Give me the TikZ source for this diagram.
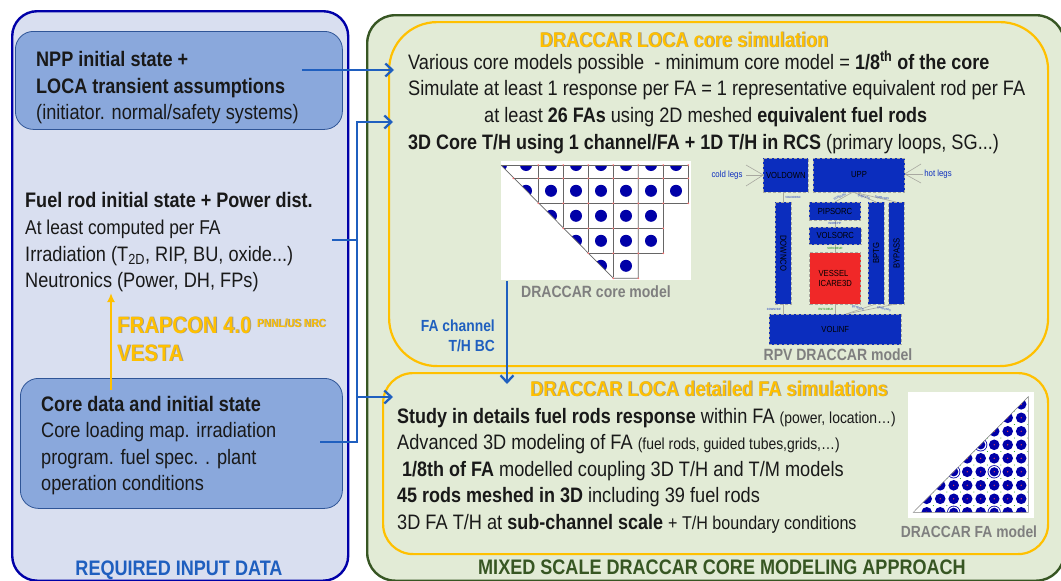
\documentclass[tikz,border=0pt]{standalone}
\usepackage{fontspec}
\setmainfont{Liberation Sans}[FakeStretch=0.87,BoldFeatures={FakeStretch=0.86}]
\usetikzlibrary{arrows.meta}
\definecolor{panelblue}{HTML}{D9DFF0}
\definecolor{boxblue}{HTML}{8AA8DC}
\definecolor{boxline}{HTML}{2F5597}
\definecolor{panelgreen}{HTML}{E2EBD6}
\definecolor{panelline}{HTML}{375623}
\definecolor{linkblue}{HTML}{1F5FBF}
\definecolor{orangeline}{HTML}{FFC000}
\definecolor{rodblue}{HTML}{0000A8}
\definecolor{rpvblue}{HTML}{0B2DBE}
\definecolor{rpvred}{HTML}{F02828}
\definecolor{rpvgray}{HTML}{A8A8A0}
\definecolor{capgray}{HTML}{7F7F7F}
\tikzset{
  block/.style={draw,rounded corners=#1,anchor=north west,inner sep=0pt},
  txt/.style={anchor=base west,inner sep=0pt,font=\fontsize{20.9}{22}\selectfont,text=black!90},
  txtb/.style={anchor=base west,inner sep=0pt,font=\fontsize{21}{22}\selectfont\bfseries,text=black!90},
  orangetxt/.style={anchor=base west,inner sep=0pt,font=\fontsize{23.6}{26}\selectfont\bfseries,text=orangeline},
  simtitle/.style={anchor=base,inner sep=0pt,font=\fontsize{21.2}{22}\selectfont\bfseries,text=orangeline},
  mapcap/.style={anchor=base,inner sep=0pt,font=\fontsize{16.3}{18}\selectfont\bfseries,text=capgray},
  heading/.style={anchor=base,inner sep=0pt,font=\fontsize{21}{22}\selectfont\bfseries},
  link/.style={draw=linkblue,line width=2.3pt,-{Straight Barb[length=7pt,width=13pt,line width=2.3pt]}},
  feed/.style={draw=linkblue,line width=2.3pt},
  gridline/.style={black!60,line width=0.7pt},
  rpv/.style={draw=rpvgray,fill=rpvblue,densely dashed,line width=0.5pt,inner sep=0pt,anchor=center,font=\fontsize{8.8}{10}\selectfont,text=black},
  legtxt/.style={inner sep=0pt,font=\fontsize{9}{10}\selectfont,text=rpvblue},
  tinytxt/.style={inner sep=0pt,font=\fontsize{3}{3.5}\selectfont,text=rpvblue},
  pipe/.style={draw=rpvgray,line width=0.6pt}
}
\newcommand{\rpvbox}[5]{\node[rpv,minimum width=#2-#1,minimum height=#4-#3,#5] at ({(#1+#2)/2},{(#3+#4)/2})}
\newcommand{\smalltxt}{\fontsize{16}{18}\selectfont}
\newcommand{\shadowtxt}[1]{\leavevmode\rlap{\kern0.9pt\raisebox{-0.9pt}{\textcolor{black!40}{#1}}}#1}
\begin{document}
\begin{tikzpicture}[x=1pt,y=-1pt]
  \useasboundingbox (0,0) rectangle (1061,581);

  % panels
  \node[block=25pt,fill=panelblue,draw=rodblue,line width=2.4pt,minimum width=336pt,minimum height=569.5pt] (inputpanel) at (11,10) {};
  \node[block=28pt,fill=panelgreen,draw=panelline,line width=2.4pt,minimum width=697pt,minimum height=565.5pt] (modelpanel) at (366,14) {};
  \node[block=18pt,fill=boxblue,draw=boxline,line width=0.8pt,minimum width=327pt,minimum height=98pt] (nppbox) at (15,31) {};
  \node[block=18pt,fill=boxblue,draw=boxline,line width=0.8pt,minimum width=322pt,minimum height=130pt] (corebox) at (20,378) {};
  \node[block=48pt,draw=orangeline,line width=2.2pt,minimum width=659pt,minimum height=344pt] (simbox) at (388,21) {};
  \node[block=30pt,draw=orangeline,line width=2.2pt,minimum width=665pt,minimum height=181pt] (detailbox) at (382,372) {};

  % left column
  \node[txtb] (npp1) at (36,66) {NPP initial state +};
  \node[txtb] (npp2) at (36,93) {LOCA transient assumptions};
  \node[txt] (npp3) at (36,119) {(initiator. normal/safety systems)};

  \node[txtb] (fuel1) at (25,207) {Fuel rod initial state + Power dist.};
  \node[txt,font=\fontsize{20}{22}\selectfont] (fuel2) at (25,234) {At least computed per FA};
  \node[txt] (fuel3) at (25,261) {Irradiation (T\textsubscript{2D}, RIP, BU, oxide...)};
  \node[txt] (fuel4) at (25,287) {Neutronics (Power, DH, FPs)};

  \node[orangetxt] (frapcon) at (117,333) {\shadowtxt{FRAPCON 4.0 \raisebox{6pt}{\fontsize{11.7}{14}\selectfont PNNL/US NRC}}};
  \node[orangetxt] (vesta) at (117,361) {\shadowtxt{VESTA}};

  \node[txtb] (core1) at (41,411) {Core data and initial state};
  \node[txt] (core2) at (41,437) {Core loading map. irradiation};
  \node[txt] (core3) at (41,464) {program. fuel spec. . plant};
  \node[txt] (core4) at (41,490) {operation conditions};

  \node[heading,text=linkblue] (inputlabel) at (179,575) {REQUIRED INPUT DATA};
  \node[heading,text=panelline] (modellabel) at (722,574) {MIXED SCALE DRACCAR CORE MODELING APPROACH};

  % core simulation text
  \node[simtitle] (simhead) at (684,47) {\shadowtxt{DRACCAR LOCA core simulation}};
  \node[txt] (sim1) at (408,69) {Various core models possible \ - minimum core model = \textbf{1/8\textsuperscript{th} of the core}};
  \node[txt] (sim2) at (408,95) {Simulate at least 1 response per FA = 1 representative equivalent rod per FA};
  \node[txt] (sim3) at (484,122) {at least \textbf{26 FAs} using 2D meshed \textbf{equivalent fuel rods}};
  \node[txt] (sim4) at (408,149) {\textbf{3D Core T/H using 1 channel/FA + 1D T/H in RCS} (primary loops, SG...)};

  % core map
  \fill[white] (501,161) rectangle (691,280);
  \begin{scope}
    \clip (501,165) -- (688.3,165) -- (688.3,203.3) -- (663.3,203.3) -- (663.3,253.3) -- (638.3,253.3) -- (638.3,278.3) -- (613.3,278.3) -- cycle;
    \foreach \x in {501,526,551,576,601,626,651,676}
      \fill[rodblue] (\x,165) circle (6);
    \foreach \x in {526,551,576,601,626,651,676}
      \fill[rodblue] (\x,190.8) circle (6);
    \foreach \x in {551,576,601,626,651}
      \fill[rodblue] (\x,215.8) circle (6);
    \foreach \x in {576,601,626,651}
      \fill[rodblue] (\x,240.8) circle (6);
    \foreach \x in {601,626}
      \fill[rodblue] (\x,265.8) circle (6);
  \end{scope}
  \draw[gridline] (501,165) -- (688.3,165) -- (688.3,203.3) -- (538.3,203.3);
  \draw[gridline] (513.3,178.3) -- (688.3,178.3);
  \draw[gridline] (563.3,228.3) -- (663.3,228.3);
  \draw[gridline] (663.3,165) -- (663.3,253.3) -- (588.3,253.3);
  \draw[gridline] (501,165) -- (613.3,278.3) -- (638.3,278.3) -- (638.3,165);
  \foreach \x in {538.3,563.3,588.3,613.3}
    \draw[gridline] (\x,165) -- (\x,{\x-336});
  \foreach \y/\xb/\cnt in {165/688.3/6,178.3/688.3/7,203.3/688.3/6,228.3/663.3/4,253.3/663.3/3,278.3/638.3/1}
    \foreach \n in {0,...,\cnt}
      \fill[red!55] ({\xb-25*\n},\y) circle (0.9);
  \node[mapcap] (corecap) at (596,297) {DRACCAR core model};

  % RPV model
  \coordinate (coldhub) at (763.3,175);
  \coordinate (hothub) at (904.7,174);
  \foreach \xe/\ye in {746/165,746/175,746/186}
    \draw[pipe] (coldhub) -- (\xe,\ye);
  \foreach \xe/\ye in {921/164,921/183,923/174}
    \draw[pipe] (hothub) -- (\xe,\ye);
  \draw[pipe] (783,192) -- (783,202);
  \draw[pipe] (783,304) -- (783,314);
  \draw[pipe] (853,192) -- (835,202);
  \draw[pipe] (853,192) -- (876,202);
  \draw[pipe] (853,192) -- (896,202);
  \draw[pipe] (835,220) -- (835,227);
  \draw[pipe] (835,244) -- (835,253);
  \draw[pipe] (835,304) -- (835,314);
  \draw[pipe] (846,314) -- (876,304);
  \draw[pipe] (846,314) -- (896,304);
  \rpvbox{763.3}{808.3}{158}{192}{} (voldown) {VOLDOWN};
  \rpvbox{813.3}{904.7}{158}{192}{} (upp) {UPP};
  \rpvbox{775.3}{791.3}{202.3}{304.3}{} (downco) {\rotatebox{-90}{DOWNCO}};
  \rpvbox{809.3}{860.7}{202.3}{220}{} (pipsorc) {PIPSORC};
  \rpvbox{809.3}{861.3}{227}{244.7}{} (volsorc) {VOLSORC};
  \rpvbox{809.7}{860.7}{252.7}{304.3}{fill=rpvred,align=left} (vessel) {VESSEL\\ICARE3D};
  \rpvbox{868.3}{884}{202.3}{304.3}{} (bptg) {\rotatebox{90}{BPTG}};
  \rpvbox{888.7}{904.3}{202.3}{304.3}{} (bypass) {\rotatebox{90}{BYPASS}};
  \rpvbox{769.3}{901.3}{314}{344.7}{} (volinf) {VOLINF};
  \node[legtxt] (coldlabel) at (727,175) {cold legs};
  \node[legtxt] (hotlabel) at (938,174) {hot legs};
  \node[tinytxt] (t1) at (793,197) {VOLDOWNC};
  \node[tinytxt,rotate=20] (t2) at (840,197) {SORGUPP};
  \node[tinytxt,rotate=-15] (t3) at (864,197) {SUBYPTG};
  \node[tinytxt,rotate=-10] (t4) at (882,198) {SORBYPAS};
  \node[tinytxt] (t5) at (835,223) {INORCPIP};
  \node[tinytxt,text=green!50!black] (t6) at (835,248) {SORCOEUR};
  \node[tinytxt,text=green!50!black] (t7) at (826,309) {ENTCOEUR};
  \node[tinytxt] (t8) at (774,309) {DOWNVINF};
  \node[tinytxt,rotate=-15] (t9) at (858,308) {ENTBPTG};
  \node[tinytxt,rotate=-12] (t10) at (884,309) {ENTBYPAS};
  \node[mapcap] (rpvcap) at (838,360) {RPV DRACCAR model};

  % detailed simulation text
  \node[simtitle] (dethead) at (709,396) {\shadowtxt{DRACCAR LOCA detailed FA simulations}};
  \node[txt] (det1) at (397,423) {\textbf{Study in details fuel rods response} within FA {\smalltxt (power, location…)}};
  \node[txt] (det2) at (397,449) {Advanced 3D modeling of FA {\smalltxt (fuel rods, guided tubes,grids,…)}};
  \node[txt] (det3) at (402,476) {\textbf{1/8th of FA} modelled coupling 3D T/H and T/M models};
  \node[txt] (det4) at (397,502) {\textbf{45 rods meshed in 3D} including 39 fuel rods};
  \node[txt] (det5) at (397,529) {3D FA T/H at \textbf{sub-channel scale} {\fontsize{18.5}{20}\selectfont + T/H boundary conditions}};

  % FA map
  \fill[white] (907.7,391.7) rectangle (1034.3,517.7);
  \begin{scope}
    \clip (913.3,512.3) -- (1028.3,396.7) -- (1028.3,512.3) -- cycle;
    \foreach \i in {0,...,7}
      \foreach \j in {0,...,8} {
        \fill[rodblue] ({926.7+13.5*\i},{512.3-13.5*\j}) circle (5.3);
        \fill[green!60!black] ({933.4+13.5*\i},{505.5-13.5*\j}) circle (0.5);
      }
    \foreach \i/\j in {2/0,5/0,5/3,2/3,4/5} {
      \fill[rodblue] ({926.7+13.5*\i},{512.3-13.5*\j}) circle (6.6);
      \fill[white] ({926.7+13.5*\i},{512.3-13.5*\j}) circle (5.8);
      \fill[rodblue] ({926.7+13.5*\i},{512.3-13.5*\j}) circle (4.6);
    }
    \foreach \i in {0,...,7}
      \foreach \j in {0,...,8}
        \fill[red!70] ({926.7+13.5*\i},{512.3-13.5*\j}) circle (0.7);
  \end{scope}
  \draw[black!50,line width=0.5pt] (913.3,512.3) -- (1028.3,396.7) -- (1028.3,512.3) -- cycle;
  \node[mapcap,font=\fontsize{16.1}{18}\selectfont\bfseries] (facap) at (969,537) {DRACCAR FA model};

  % connectors
  \coordinate (nppout) at (302,70);
  \coordinate (simin) at (394,70);
  \coordinate (fuelout) at (332,240);
  \coordinate (coreout) at (320,442);
  \coordinate (busjoin) at (357,240);
  \coordinate (bustop) at (357,122);
  \coordinate (busend) at (357,442);
  \coordinate (busdet) at (357,397);
  \coordinate (simin2) at (393,122);
  \coordinate (detin) at (393,397);
  \coordinate (mapout) at (507,281);
  \coordinate (detin2) at (507,384);
  \coordinate (corestem) at (111,390);
  \coordinate (fueltip) at (111,293);
  \draw[link] (nppout) -- (simin);
  \draw[feed] (fuelout) -- (busjoin);
  \draw[feed] (coreout) -- (busend) -- (busdet);
  \draw[link] (busdet) -- (bustop) -- (simin2);
  \draw[link] (busdet) -- (detin);
  \draw[link] (mapout) -- (detin2);
  \draw[draw=orangeline,line width=2.2pt,-{Latex[length=9pt,width=8pt]}] (corestem) -- (fueltip);
  \node[inner sep=0pt,anchor=base east,align=right,font=\fontsize{16.1}{20}\selectfont\bfseries,text=linkblue] (fabc) at (495,351) {FA channel\\T/H BC};
\end{tikzpicture}
\end{document}
